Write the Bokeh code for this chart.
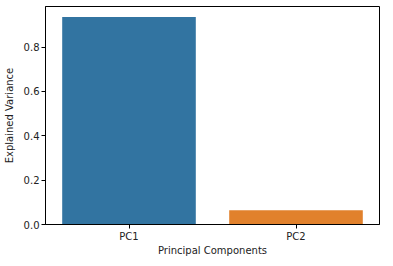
from bokeh.plotting import figure
from bokeh.models import FixedTicker, Range1d, CustomJSTickFormatter
from bokeh.embed import file_html
from bokeh.resources import INLINE

components = ["PC1", "PC2"]
explained = [0.936, 0.064]
colors = ["#3274a1", "#e1812c"]
y_ticks = [0.0, 0.2, 0.4, 0.6, 0.8]

p = figure(x_range=components, width=393, height=266, output_backend="svg",
           toolbar_location=None, min_border_left=44, min_border_right=14,
           min_border_top=6, min_border_bottom=42)
p.y_range = Range1d(0, max(explained) * 1.05)
p.x_range.range_padding = 0

p.vbar(x=components, top=explained, width=0.8, color=colors, line_color=None)

p.xgrid.visible = False
p.ygrid.visible = False
p.outline_line_color = "black"
p.outline_line_width = 1
p.background_fill_color = "white"
p.border_fill_color = "white"

p.yaxis.ticker = FixedTicker(ticks=y_ticks)
p.yaxis.formatter = CustomJSTickFormatter(code="return tick.toFixed(1);")

for ax in (p.xaxis[0], p.yaxis[0]):
    ax.major_tick_in = 0
    ax.major_tick_out = 4
    ax.minor_tick_line_color = None
    ax.axis_line_color = "black"
    ax.major_tick_line_color = "black"
    ax.major_label_text_font = "DejaVu Sans"
    ax.major_label_text_font_size = "10px"
    ax.major_label_text_color = "#222222"
    ax.axis_label_text_font = "DejaVu Sans"
    ax.axis_label_text_font_size = "10px"
    ax.axis_label_text_font_style = "normal"
    ax.axis_label_text_color = "#222222"
    ax.major_label_standoff = 2

p.xaxis.axis_label = "Principal Components"
p.yaxis.axis_label = "Explained Variance"
p.xaxis.axis_label_standoff = 0
p.yaxis.axis_label_standoff = 6

open("out.html", "w").write(file_html(p, INLINE))
